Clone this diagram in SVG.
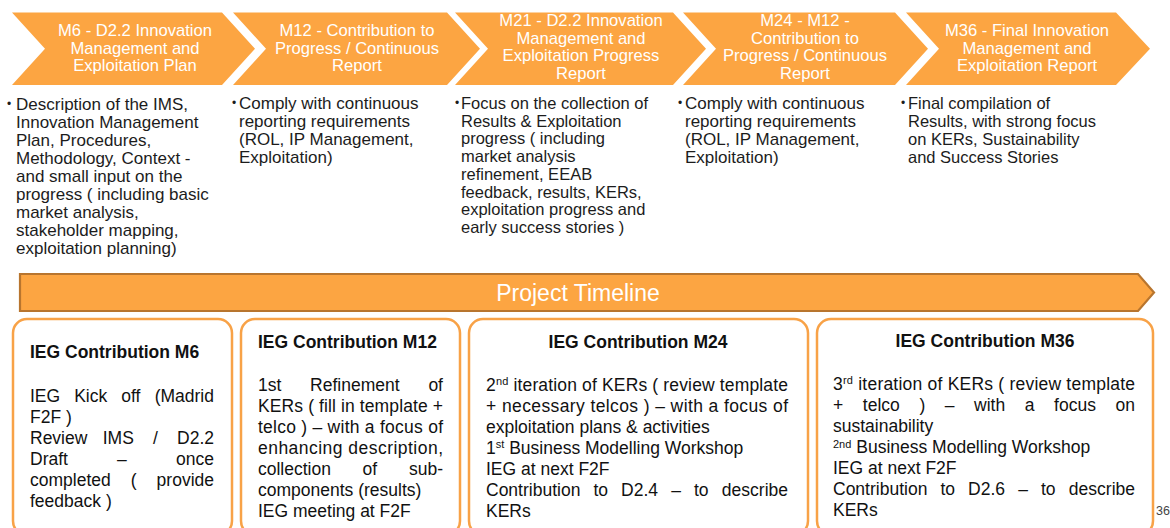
<svg xmlns="http://www.w3.org/2000/svg" width="1170" height="528" viewBox="0 0 1170 528">
<style>
  text { font-family: "Liberation Sans", Arial, Helvetica, sans-serif; }
  .chev { fill: #FCA542; }
  .ct { fill: #ffffff; font-size: 16.6px; text-anchor: middle; }
  .bt { fill: #1c1c1c; font-size: 17px; }
  .bt2 { fill: #1c1c1c; font-size: 16.5px; }
  .dot { fill: #1c1c1c; font-size: 12px; }
  .box { fill: #ffffff; stroke: #F8A247; stroke-width: 2.5; }
  .ttl { fill: #111111; font-size: 17.5px; font-weight: bold; }
  .bd { fill: #111111; font-size: 17.5px; }
  .end { text-anchor: end; }
  .sup { font-size: 11px; }
</style>

<g id="chevrons">
  <g id="m6">
    <polygon class="chev" points="12,12.5 222,12.5 255,48.75 222,85 12,85 45,48.75"/>
    <text class="ct" x="135" y="36">M6 - D2.2 Innovation</text>
    <text class="ct" x="135" y="53.5">Management and</text>
    <text class="ct" x="135" y="71">Exploitation Plan</text>
  </g>
  <g id="m12">
    <polygon class="chev" points="233,12.5 447,12.5 480,48.75 447,85 233,85 266,48.75"/>
    <text class="ct" x="357" y="36">M12 - Contribution to</text>
    <text class="ct" x="357" y="53.5">Progress / Continuous</text>
    <text class="ct" x="357" y="71">Report</text>
  </g>
  <g id="m21">
    <polygon class="chev" points="455,12.5 673,12.5 706,48.75 673,85 455,85 488,48.75"/>
    <text class="ct" x="581" y="26">M21 - D2.2 Innovation</text>
    <text class="ct" x="581" y="43.5">Management and</text>
    <text class="ct" x="581" y="61">Exploitation Progress</text>
    <text class="ct" x="581" y="78.5">Report</text>
  </g>
  <g id="m24">
    <polygon class="chev" points="683,12.5 895,12.5 928,48.75 895,85 683,85 716,48.75"/>
    <text class="ct" x="805" y="26">M24 - M12 -</text>
    <text class="ct" x="805" y="43.5">Contribution to</text>
    <text class="ct" x="805" y="61">Progress / Continuous</text>
    <text class="ct" x="805" y="78.5">Report</text>
  </g>
  <g id="m36">
    <polygon class="chev" points="906,12.5 1116,12.5 1150,48.75 1116,85 906,85 939,48.75"/>
    <text class="ct" x="1027" y="36">M36 - Final Innovation</text>
    <text class="ct" x="1027" y="53.5">Management and</text>
    <text class="ct" x="1027" y="71">Exploitation Report</text>
  </g>
</g>

<g id="descriptions">
  <g id="desc-m6">
    <text class="dot" x="7" y="108">•</text>
    <text class="bt" x="16" y="110">Description of the IMS,</text>
    <text class="bt" x="16" y="128">Innovation Management</text>
    <text class="bt" x="16" y="146">Plan, Procedures,</text>
    <text class="bt" x="16" y="164">Methodology, Context -</text>
    <text class="bt" x="16" y="182">and small input on the</text>
    <text class="bt" x="16" y="200">progress ( including basic</text>
    <text class="bt" x="16" y="218">market analysis,</text>
    <text class="bt" x="16" y="236">stakeholder mapping,</text>
    <text class="bt" x="16" y="254">exploitation planning)</text>
  </g>
  <g id="desc-m12">
    <text class="dot" x="232" y="107">•</text>
    <text class="bt" x="239" y="109">Comply with continuous</text>
    <text class="bt" x="239" y="127">reporting requirements</text>
    <text class="bt" x="239" y="145">(ROL, IP Management,</text>
    <text class="bt" x="239" y="163">Exploitation)</text>
  </g>
  <g id="desc-m21">
    <text class="dot" x="455" y="107">•</text>
    <text class="bt2" x="461" y="109">Focus on the collection of</text>
    <text class="bt2" x="461" y="126.7">Results &amp; Exploitation</text>
    <text class="bt2" x="461" y="144.4">progress ( including</text>
    <text class="bt2" x="461" y="162.1">market analysis</text>
    <text class="bt2" x="461" y="179.8">refinement, EEAB</text>
    <text class="bt2" x="461" y="197.5">feedback, results, KERs,</text>
    <text class="bt2" x="461" y="215.2">exploitation progress and</text>
    <text class="bt2" x="461" y="232.9">early success stories )</text>
  </g>
  <g id="desc-m24">
    <text class="dot" x="678" y="107">•</text>
    <text class="bt" x="685" y="109">Comply with continuous</text>
    <text class="bt" x="685" y="127">reporting requirements</text>
    <text class="bt" x="685" y="145">(ROL, IP Management,</text>
    <text class="bt" x="685" y="163">Exploitation)</text>
  </g>
  <g id="desc-m36">
    <text class="dot" x="901" y="107">•</text>
    <text class="bt2" x="908" y="109">Final compilation of</text>
    <text class="bt2" x="908" y="127">Results, with strong focus</text>
    <text class="bt2" x="908" y="145">on KERs, Sustainability</text>
    <text class="bt2" x="908" y="163">and Success Stories</text>
  </g>
</g>

<g id="timeline">
  <polygon points="20,274 1138,274 1154,292.5 1138,311 20,311" fill="#FCA542" stroke="#B8752E" stroke-width="2.2"/>
  <text x="578" y="301" fill="#ffffff" font-size="23px" text-anchor="middle">Project Timeline</text>
</g>

<g id="ieg-m6">
  <rect class="box" x="13" y="319" width="219" height="216" rx="14"/>
  <text class="ttl" x="30" y="358">IEG Contribution M6</text>
  <text class="bd" x="30" y="402">IEG</text>
  <text class="bd" x="74.2" y="402">Kick</text>
  <text class="bd" x="121.3" y="402">off</text>
  <text class="bd end" x="214" y="402">(Madrid</text>
  <text class="bd" x="30" y="423">F2F )</text>
  <text class="bd" x="30" y="444">Review</text>
  <text class="bd" x="102.7" y="444">IMS</text>
  <text class="bd" x="153" y="444">/</text>
  <text class="bd end" x="214" y="444">D2.2</text>
  <text class="bd" x="30" y="465">Draft</text>
  <text class="bd" x="117.1" y="465">–</text>
  <text class="bd end" x="214" y="465">once</text>
  <text class="bd" x="30" y="486">completed</text>
  <text class="bd" x="130.7" y="486">(</text>
  <text class="bd end" x="214" y="486">provide</text>
  <text class="bd" x="30" y="507">feedback )</text>
</g>

<g id="ieg-m12">
  <rect class="box" x="241" y="319" width="219" height="216" rx="14"/>
  <text class="ttl" x="258" y="348">IEG Contribution M12</text>
  <text class="bd" x="258" y="391">1st</text>
  <text class="bd" x="310.1" y="391">Refinement</text>
  <text class="bd end" x="443" y="391">of</text>
  <text class="bd" x="258" y="412" textLength="185" lengthAdjust="spacing">KERs ( fill in template +</text>
  <text class="bd" x="258" y="433" textLength="185" lengthAdjust="spacing">telco ) – with a focus of</text>
  <text class="bd" x="258" y="454" textLength="185" lengthAdjust="spacing">enhancing description,</text>
  <text class="bd" x="258" y="475">collection</text>
  <text class="bd" x="362.6" y="475">of</text>
  <text class="bd end" x="443" y="475">sub-</text>
  <text class="bd" x="258" y="496">components (results)</text>
  <text class="bd" x="258" y="517">IEG meeting at F2F</text>
</g>

<g id="ieg-m24">
  <rect class="box" x="469" y="319" width="339" height="216" rx="14"/>
  <text class="ttl" x="638" y="348" text-anchor="middle">IEG Contribution M24</text>
  <text class="bd" x="486" y="391" textLength="302" lengthAdjust="spacing">2<tspan class="sup" dy="-6">nd</tspan><tspan dy="6"> iteration of KERs ( review template</tspan></text>
  <text class="bd" x="486" y="412" textLength="302" lengthAdjust="spacing">+ necessary telcos ) – with a focus of</text>
  <text class="bd" x="486" y="433">exploitation plans &amp; activities</text>
  <text class="bd" x="486" y="454">1<tspan class="sup" dy="-6">st</tspan><tspan dy="6"> Business Modelling Workshop</tspan></text>
  <text class="bd" x="486" y="475">IEG at next F2F</text>
  <text class="bd" x="486" y="496">Contribution</text>
  <text class="bd" x="593.4" y="496">to</text>
  <text class="bd" x="621.1" y="496">D2.4</text>
  <text class="bd" x="671.2" y="496">–</text>
  <text class="bd" x="694" y="496">to</text>
  <text class="bd end" x="788" y="496">describe</text>
  <text class="bd" x="486" y="517">KERs</text>
</g>

<g id="ieg-m36">
  <rect class="box" x="817" y="319" width="336" height="216" rx="14"/>
  <text class="ttl" x="985" y="347" text-anchor="middle">IEG Contribution M36</text>
  <text class="bd" x="833" y="390" textLength="302" lengthAdjust="spacing">3<tspan class="sup" dy="-6">rd</tspan><tspan dy="6"> iteration of KERs ( review template</tspan></text>
  <text class="bd" x="833" y="411">+</text>
  <text class="bd" x="862.8" y="411">telco</text>
  <text class="bd" x="919.4" y="411">)</text>
  <text class="bd" x="944.8" y="411">–</text>
  <text class="bd" x="974.1" y="411">with</text>
  <text class="bd" x="1024.8" y="411">a</text>
  <text class="bd" x="1054.1" y="411">focus</text>
  <text class="bd end" x="1135" y="411">on</text>
  <text class="bd" x="833" y="432">sustainability</text>
  <text class="bd" x="833" y="453"><tspan class="sup" dy="-5">2nd</tspan><tspan dy="5"> Business Modelling Workshop</tspan></text>
  <text class="bd" x="833" y="474">IEG at next F2F</text>
  <text class="bd" x="833" y="495">Contribution</text>
  <text class="bd" x="940.4" y="495">to</text>
  <text class="bd" x="968.1" y="495">D2.6</text>
  <text class="bd" x="1018.2" y="495">–</text>
  <text class="bd" x="1041" y="495">to</text>
  <text class="bd end" x="1135" y="495">describe</text>
  <text class="bd" x="833" y="516">KERs</text>
</g>

<text x="1156" y="515" fill="#444444" font-size="12.5px">36</text>
</svg>
